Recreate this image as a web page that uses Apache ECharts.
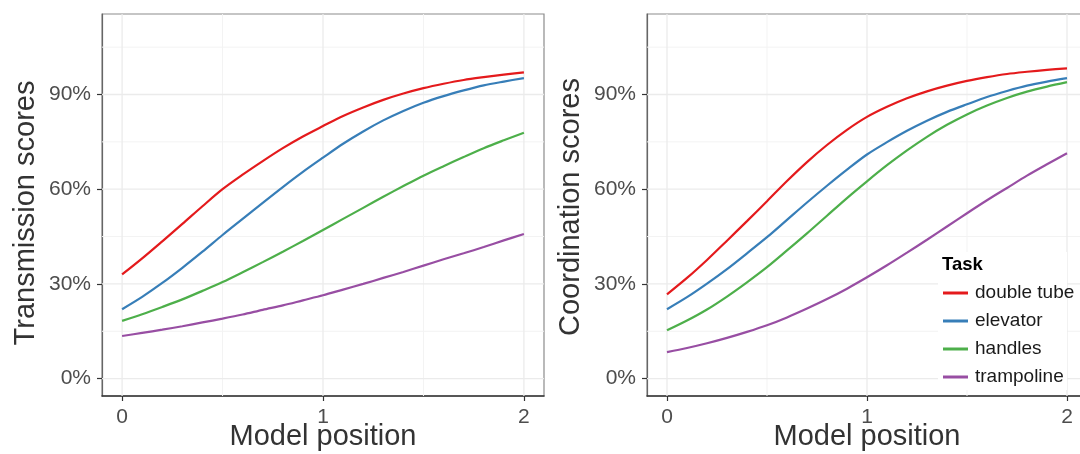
<!DOCTYPE html>
<html><head><meta charset="utf-8">
<script src="https://cdn.jsdelivr.net/npm/echarts@6/dist/echarts.min.js"></script>
<style>html,body{margin:0;padding:0;background:#fff}#c{width:1080px;height:454px}</style>
</head><body><div id="c"></div>
<script>
// ---- data ----
const xs = [0,0.1,0.2,0.3,0.4,0.5,0.6,0.7,0.8,0.9,1.0,1.1,1.2,1.3,1.4,1.5,1.6,1.7,1.8,1.9,2.0];
const tasks = ['double tube','elevator','handles','trampoline'];
const transDouble     = [0.330,0.381,0.435,0.490,0.546,0.600,0.646,0.689,0.730,0.767,0.800,0.832,0.859,0.883,0.903,0.920,0.934,0.946,0.955,0.963,0.970];
const transElevator   = [0.220,0.259,0.303,0.351,0.402,0.455,0.506,0.557,0.607,0.655,0.700,0.744,0.783,0.818,0.848,0.874,0.895,0.913,0.929,0.941,0.952];
const transHandles    = [0.183,0.204,0.227,0.251,0.278,0.306,0.337,0.369,0.402,0.436,0.471,0.506,0.541,0.576,0.610,0.643,0.673,0.702,0.730,0.755,0.779];
const transTrampoline = [0.135,0.145,0.155,0.166,0.178,0.190,0.203,0.218,0.232,0.248,0.264,0.282,0.300,0.319,0.338,0.358,0.378,0.397,0.417,0.438,0.458];
const coordDouble     = [0.267,0.319,0.376,0.437,0.499,0.562,0.626,0.686,0.740,0.788,0.829,0.861,0.888,0.910,0.928,0.943,0.955,0.965,0.972,0.978,0.983];
const coordElevator   = [0.220,0.258,0.301,0.347,0.397,0.448,0.503,0.558,0.611,0.662,0.710,0.749,0.785,0.817,0.845,0.869,0.892,0.911,0.928,0.941,0.952];
const coordHandles    = [0.153,0.184,0.219,0.260,0.305,0.353,0.406,0.460,0.516,0.572,0.625,0.676,0.723,0.766,0.804,0.837,0.865,0.889,0.909,0.925,0.939];
const coordTrampoline = [0.084,0.097,0.112,0.129,0.148,0.169,0.194,0.222,0.252,0.285,0.321,0.359,0.399,0.440,0.482,0.524,0.565,0.604,0.643,0.679,0.714];
const yTicks = [0,0.3,0.6,0.9];
const yMinor = [0.15,0.45,0.75,1.05];
const xTicks = [0,1,2];
const xMinor = [0.5,1.5];
const yTitles = ['Transmission scores','Coordination scores'];
const xTitle = 'Model position';

// ---- styles ----
const colors = ['#E41A1C','#377EB8','#4DAF4A','#984EA3'];
const FONT = '"Liberation Sans", Arial, sans-serif';
const X_MIN = -0.1, X_MAX = 2.1, Y_MIN = -0.055, Y_MAX = 1.155;
const panels = [
  [transDouble, transElevator, transHandles, transTrampoline],
  [coordDouble, coordElevator, coordHandles, coordTrampoline]
];

const grids = [
  {left: 102, top: 14, width: 442, height: 382},
  {left: 647, top: 14, width: 440, height: 382}
];
const yTitlePad = [[0, 16, 0, 0], [0, 4, 0, 0]];

const xAxes = [], yAxes = [], series = [];
function gridSeries(i, pts, major){
  series.push({
    type: 'line', xAxisIndex: i, yAxisIndex: i, data: pts, z: 0, silent: true,
    symbol: 'none', showSymbol: false, tooltip: {show: false},
    lineStyle: {color: major ? '#ebebeb' : '#f3f3f3', width: major ? 1.3 : 1}
  });
}
grids.forEach((g, i) => {
  g.show = true; g.borderColor = '#8c8c8c'; g.borderWidth = 1.2; g.backgroundColor = '#fff';
  g.outerBoundsMode = 'none'; g.containLabel = false;
  xAxes.push({
    type: 'value', gridIndex: i, min: X_MIN, max: X_MAX,
    splitLine: {show: false},
    axisLine: {show: true, onZero: false, lineStyle: {color: '#333', width: 1.5}},
    axisTick: {show: true, customValues: xTicks, length: 5, lineStyle: {color: '#333', width: 1.2}},
    axisLabel: {customValues: xTicks, fontSize: 21, color: '#4d4d4d', fontFamily: FONT, margin: 11,
      formatter: v => String(Math.round(v))},
    name: xTitle, nameLocation: 'middle', nameGap: 26, nameMoveOverlap: false,
    nameTextStyle: {fontSize: 29, color: '#333', fontFamily: FONT}
  });
  yAxes.push({
    type: 'value', gridIndex: i, min: Y_MIN, max: Y_MAX,
    splitLine: {show: false},
    axisLine: {show: true, onZero: false, lineStyle: {color: '#666', width: 1.2}},
    axisTick: {show: true, customValues: yTicks, length: 5, lineStyle: {color: '#333', width: 1.2}},
    axisLabel: {customValues: yTicks, fontSize: 21, color: '#4d4d4d', fontFamily: FONT, margin: 11,
      formatter: v => Math.round(v * 100) + '%'},
    name: yTitles[i], nameLocation: 'middle', nameGap: 62,
    nameTextStyle: {fontSize: 29, color: '#333', fontFamily: FONT, padding: yTitlePad[i]}
  });
  yMinor.forEach(v => gridSeries(i, [[X_MIN, v], [X_MAX, v]], false));
  xMinor.forEach(v => gridSeries(i, [[v, Y_MIN], [v, Y_MAX]], false));
  yTicks.forEach(v => gridSeries(i, [[X_MIN, v], [X_MAX, v]], true));
  xTicks.forEach(v => gridSeries(i, [[v, Y_MIN], [v, Y_MAX]], true));
  panels[i].forEach((vals, k) => {
    series.push({
      name: tasks[k], type: 'line', xAxisIndex: i, yAxisIndex: i, z: 3,
      data: xs.map((x, j) => [x, vals[j]]),
      smooth: 0.3, showSymbol: false, symbol: 'none',
      lineStyle: {color: colors[k], width: 2.2}, itemStyle: {color: colors[k]}
    });
  });
});

const chart = echarts.init(document.getElementById('c'), null, {renderer: 'canvas'});
chart.setOption({
  animation: false,
  color: colors,
  grid: grids,
  xAxis: xAxes,
  yAxis: yAxes,
  series: series,
  legend: {
    data: tasks, orient: 'vertical', left: 943, top: 283, padding: 0,
    icon: 'rect', itemWidth: 25, itemHeight: 3, itemGap: 8,
    textStyle: {fontSize: 19, color: '#1a1a1a', fontFamily: FONT, lineHeight: 20, padding: [0,0,0,2]},
    selectedMode: false
  },
  graphic: [
    {type: 'rect', shape: {x: 938, y: 252, width: 129, height: 138}, style: {fill: '#fff'}, z: 1},
    {type: 'text', x: 942, y: 265, z: 10,
      style: {text: 'Task', font: 'bold 18.5px "Liberation Sans", Arial, sans-serif', fill: '#000', verticalAlign: 'middle'}}
  ]
});
</script></body></html>
